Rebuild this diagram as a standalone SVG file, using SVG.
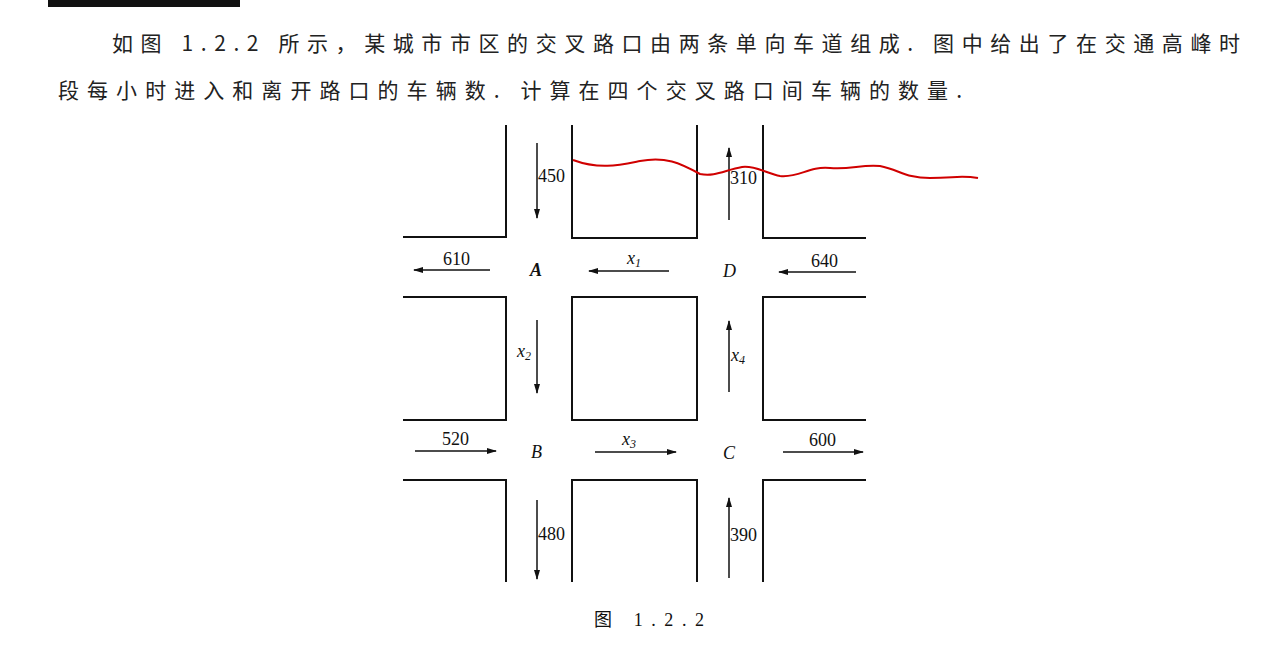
<svg xmlns="http://www.w3.org/2000/svg" width="1280" height="661" viewBox="0 0 1280 661">
<style>
.r{stroke:#111;stroke-width:2;fill:none}
.a{stroke:#111;stroke-width:1.5;fill:none;marker-end:url(#ah)}
.t{font-family:"Liberation Serif","Noto Sans CJK SC",serif;font-size:18px;fill:#111}
.c{font-family:"Noto Sans CJK SC",serif;font-size:21px;fill:#222}
.i{font-style:italic}
</style>
<defs><marker id="ah" markerWidth="10" markerHeight="6" refX="9" refY="3" orient="auto" markerUnits="userSpaceOnUse"><path d="M0,0 L10,3 L0,6 z" fill="#111"/></marker></defs>
<rect width="1280" height="661" fill="#fff"/>
<rect x="48" y="0" width="192" height="7" fill="#111"/>
<text class="c" x="112" y="51" textLength="1128" lengthAdjust="spacing">如图 1.2.2 所示，某城市市区的交叉路口由两条单向车道组成. 图中给出了在交通高峰时</text>
<text class="c" x="58" y="98" textLength="904" lengthAdjust="spacing">段每小时进入和离开路口的车辆数. 计算在四个交叉路口间车辆的数量.</text>
<g id="roads">
<path class="r" d="M403,237 H506 V125 M572,125 V238 H697 V125 M763,125 V238 H866"/>
<path class="r" d="M403,297 H506 V420 H403 M572,297 H697 V420 H572 Z M866,297 H763 V420 H866"/>
<path class="r" d="M403,480 H506 V582 M572,582 V480 H697 V582 M763,582 V480 H866"/>
</g>
<g id="connectors">
<line class="a" x1="537" y1="143" x2="537" y2="218"/>
<line class="a" x1="729" y1="220" x2="729" y2="148"/>
<line class="a" x1="490" y1="270" x2="414" y2="270"/>
<line class="a" x1="669" y1="271" x2="589" y2="271"/>
<line class="a" x1="856" y1="272" x2="779" y2="272"/>
<line class="a" x1="537" y1="320" x2="537" y2="393"/>
<line class="a" x1="729" y1="392" x2="729" y2="321"/>
<line class="a" x1="415" y1="451" x2="496" y2="451"/>
<line class="a" x1="595" y1="452" x2="676" y2="452"/>
<line class="a" x1="783" y1="452" x2="863" y2="452"/>
<line class="a" x1="537" y1="500" x2="537" y2="579"/>
<line class="a" x1="729" y1="578" x2="729" y2="498"/>
</g>
<g id="labels" class="t">
<text x="538" y="182">450</text><text x="730" y="184">310</text>
<text x="443" y="265">610</text><text x="627" y="264" class="i">x<tspan font-size="12" dy="3">1</tspan></text><text x="811" y="267">640</text>
<text x="517" y="357" class="i">x<tspan font-size="12" dy="3">2</tspan></text><text x="731" y="361" class="i">x<tspan font-size="12" dy="3">4</tspan></text>
<text x="442" y="445">520</text><text x="622" y="445" class="i">x<tspan font-size="12" dy="3">3</tspan></text><text x="809" y="446">600</text>
<text x="538" y="540">480</text><text x="730" y="541">390</text>
</g>
<g id="A"><text class="t i" x="530" y="276" font-weight="bold">A</text></g>
<g id="D"><text class="t i" x="723" y="277">D</text></g>
<g id="B"><text class="t i" x="531" y="458">B</text></g>
<g id="C"><text class="t i" x="723" y="459">C</text></g>
<text class="t" x="594" y="626" textLength="110" lengthAdjust="spacing">图   1.2.2</text>
<path d="M573,160 C600,170 620,165 640,161 C665,156 680,163 700,174 C715,177 725,170 742,167 C755,165 768,174 780,176 C800,178 808,166 830,168 C850,170 862,164 880,166 C900,170 905,178 930,178 C955,178 960,175 978,178" stroke="#d00000" stroke-width="2" fill="none"/>
</svg>
